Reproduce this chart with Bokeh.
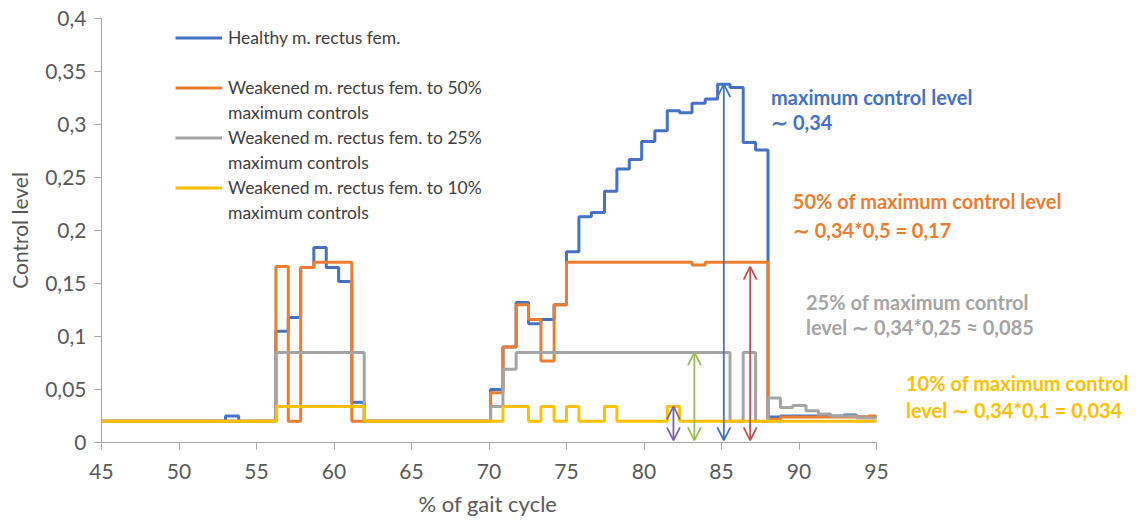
from bokeh.plotting import figure
from bokeh.models import (Range1d, FixedTicker, CustomJSTickFormatter, Arrow,
                          OpenHead, Label, Legend, LegendItem, Title)
from bokeh.embed import file_html
from bokeh.resources import INLINE

# --- data: step edges (% of gait cycle) and control level per step ---------
healthy_x = [45.0, 53.0, 53.85, 56.25, 57.05, 57.85, 58.7, 59.5, 60.3, 61.15,
             61.95, 70.1, 70.9, 71.75, 72.55, 73.35, 74.2, 75.0, 75.8, 76.6,
             77.45, 78.25, 79.05, 79.85, 80.7, 81.5, 82.3, 83.1, 83.95, 84.75,
             85.55, 86.4, 87.2, 88.0, 88.8, 89.6, 90.45, 91.25, 92.05, 92.9,
             93.7, 94.5, 95.0]
healthy_y = [0.02, 0.025, 0.02, 0.105, 0.118, 0.165, 0.184, 0.165, 0.152, 0.038,
             0.02, 0.05, 0.09, 0.132, 0.112, 0.116, 0.130, 0.180, 0.213, 0.217,
             0.237, 0.258, 0.267, 0.284, 0.294, 0.313, 0.311, 0.320, 0.324, 0.338,
             0.335, 0.283, 0.276, 0.024, 0.025, 0.025, 0.025, 0.025, 0.025, 0.026,
             0.024, 0.024]

weak50_x = [45.0, 56.25, 57.05, 57.85, 58.7, 61.15, 70.1, 70.9, 71.75, 72.55,
            73.35, 74.2, 75.0, 83.1, 83.95, 88.0, 88.8, 94.5, 95.0]
weak50_y = [0.02, 0.166, 0.02, 0.165, 0.17, 0.02, 0.047, 0.09, 0.130, 0.116,
            0.077, 0.130, 0.17, 0.1675, 0.17, 0.022, 0.024, 0.025]

weak25_x = [45.0, 56.25, 61.95, 70.1, 70.9, 71.75, 85.55, 86.4, 87.2, 88.0,
            88.8, 89.6, 90.45, 91.25, 92.05, 93.7, 95.0]
weak25_y = [0.02, 0.085, 0.02, 0.034, 0.069, 0.085, 0.02, 0.085, 0.02, 0.042,
            0.033, 0.035, 0.030, 0.027, 0.025, 0.023]

weak10_x = [45.0, 56.3, 61.95, 70.9, 72.55, 73.35, 74.2, 75.0, 75.8, 77.45,
            78.25, 81.5, 82.3, 95.0]
weak10_y = [0.02, 0.034, 0.02, 0.034, 0.02, 0.034, 0.02, 0.034, 0.02, 0.034,
            0.02, 0.034, 0.02]

series_names = ["Healthy m. rectus fem.",
                "Weakened m. rectus fem. to 50%",
                "Weakened m. rectus fem. to 25%",
                "Weakened m. rectus fem. to 10%"]

# level markers (double arrows): position and top value
marker_x = [81.9, 83.25, 85.15, 86.85]
marker_top = [0.034, 0.085, 0.338, 0.166]
marker_bottom = 0.002

x_ticks = [45, 50, 55, 60, 65, 70, 75, 80, 85, 90, 95]
y_ticks = [0, 0.05, 0.1, 0.15, 0.2, 0.25, 0.3, 0.35, 0.4]

# --- styling -----------------------------------------------------------------
FONT = "Lato"
BLUE, ORANGE, GRAY, GOLD = "#4472C4", "#ED7D31", "#A5A5A5", "#FFC000"
MARKER_COLORS = ["#8064A2", "#9BBB59", "#4472C4", "#C0504D"]
AXIS_GRAY = "#A6A6A6"
TEXT_GRAY = "#595959"

# The frame runs to the right edge so the level notes beside the curves are
# not clipped; the x axis itself is bounded to 45..95 (775 px wide).
PLOT_LEFT, AXIS_PX = 101, 775
x_end = 45 + 50 * (1138 - PLOT_LEFT) / AXIS_PX

p = figure(width=1138, height=525, output_backend="svg", toolbar_location=None,
           x_range=Range1d(45, x_end), y_range=Range1d(0, 0.4),
           min_border_left=PLOT_LEFT, min_border_right=0, min_border_top=18,
           min_border_bottom=83)
p.outline_line_color = None
p.xgrid.visible = False
p.ygrid.visible = False
p.background_fill_color = "white"
p.border_fill_color = "white"

fmt = CustomJSTickFormatter(code="""
    let s = tick.toFixed(2).replace(/0+$/, '').replace(/\\.$/, '');
    return s.replace('.', ',');
""")

p.xaxis.ticker = FixedTicker(ticks=x_ticks)
p.xaxis.bounds = (45, 95)
p.yaxis.ticker = FixedTicker(ticks=y_ticks)
p.yaxis.formatter = fmt
for ax in (p.xaxis, p.yaxis):
    ax.axis_line_color = AXIS_GRAY
    ax.major_tick_line_color = AXIS_GRAY
    ax.minor_tick_line_color = None
    ax.major_tick_in = 0
    ax.major_tick_out = 7
    ax.major_label_text_font = FONT
    ax.major_label_text_font_size = "21px"
    ax.major_label_text_color = TEXT_GRAY
    ax.axis_label_text_font = FONT
    ax.axis_label_text_font_size = "21px"
    ax.axis_label_text_color = TEXT_GRAY
    ax.axis_label_text_font_style = "normal"
p.yaxis.axis_label = "Control level"
p.xaxis.major_label_standoff = 14
p.yaxis.major_label_standoff = 8
p.yaxis.axis_label_standoff = 10

# x axis title, centred under the bounded 45..95 axis
p.add_layout(Title(text="% of gait cycle", align="left", offset=317,
                   text_font=FONT, text_font_size="22px",
                   text_font_style="normal", text_color=TEXT_GRAY,
                   standoff=13), "below")


def step_line(xs, ys, color):
    return p.step(x=xs, y=ys + [ys[-1]], mode="after", line_color=color,
                  line_width=3)


r_h = step_line(healthy_x, healthy_y, BLUE)
r_50 = step_line(weak50_x, weak50_y, ORANGE)
r_25 = step_line(weak25_x, weak25_y, GRAY)
r_10 = step_line(weak10_x, weak10_y, GOLD)

# transparent placeholder renderer for wrapped legend rows
blank = p.line(x=[], y=[], line_alpha=0)

legend = Legend(items=[
    LegendItem(label=series_names[0], renderers=[r_h]),
    LegendItem(label=" ", renderers=[blank]),
    LegendItem(label=series_names[1], renderers=[r_50]),
    LegendItem(label="maximum controls", renderers=[blank]),
    LegendItem(label=series_names[2], renderers=[r_25]),
    LegendItem(label="maximum controls", renderers=[blank]),
    LegendItem(label=series_names[3], renderers=[r_10]),
    LegendItem(label="maximum controls", renderers=[blank]),
], location=(74, 217), orientation="vertical", padding=0, margin=0,
    spacing=0, glyph_width=47, glyph_height=25, label_height=25,
    label_standoff=6, label_text_font=FONT, label_text_font_size="17.5px",
    label_text_color="#404040", background_fill_alpha=0,
    border_line_color=None)
p.add_layout(legend, "center")

# double-headed level markers
for xm, top, col in zip(marker_x, marker_top, MARKER_COLORS):
    p.add_layout(Arrow(
        start=OpenHead(size=13, line_color=col, line_width=1.8),
        end=OpenHead(size=13, line_color=col, line_width=1.8),
        x_start=xm, y_start=marker_bottom, x_end=xm, y_end=top,
        line_color=col, line_width=1.8))

# level notes on the right
notes = [
    ("maximum control level", 88.2, 0.3255, BLUE),
    ("\u223c 0,34", 88.2, 0.3019, BLUE),
    ("50% of maximum control level", 89.6, 0.2274, ORANGE),
    ("\u223c 0,34*0,5 = 0,17", 89.6, 0.2009, ORANGE),
    ("25% of maximum control", 90.45, 0.1321, GRAY),
    ("level \u223c 0,34*0,25 \u2248 0,085", 90.45, 0.1085, GRAY),
    ("10% of maximum control", 96.9, 0.0557, GOLD),
    ("level \u223c 0,34*0,1 = 0,034", 96.9, 0.0311, GOLD),
]
for txt, xn, yn, col in notes:
    p.add_layout(Label(x=xn, y=yn, text=txt, text_font=FONT,
                       text_font_style="bold", text_font_size="20px",
                       text_color=col, text_baseline="middle",
                       text_align="left"))

open("out.html", "w").write(file_html(p, INLINE))
